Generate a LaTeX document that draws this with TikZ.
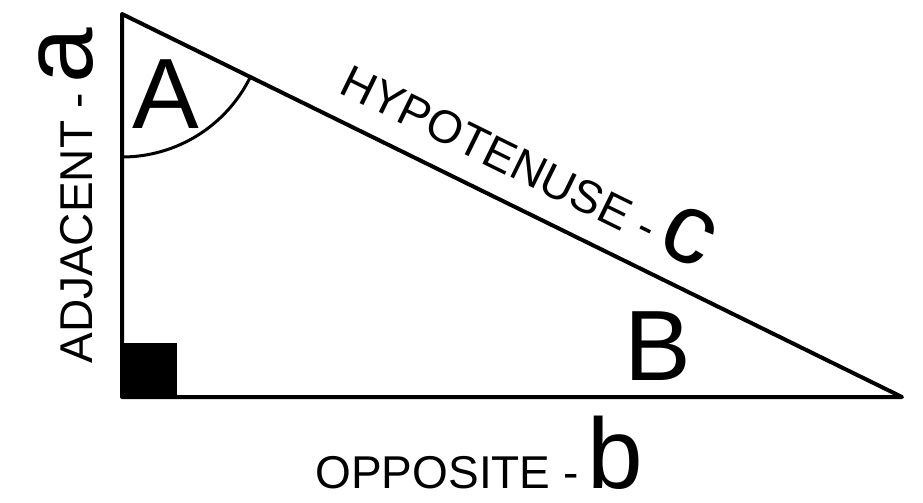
\documentclass[tikz,border=0pt]{standalone}
\usepackage{fontspec}
\setmainfont{Liberation Sans}
\tikzset{
  edge/.style={line width=2pt,line join=round},
  anglearc/.style={line width=1.5pt},
  sidelabel/.style={inner sep=0pt,font=\fontsize{23}{27}\selectfont},
  anglelabel/.style={inner sep=0pt,font=\fontsize{50}{60}\selectfont}
}
\newcommand{\sideletter}[1]{{\fontsize{50}{60}\selectfont\kern-0.04em #1}}

\begin{document}
\begin{tikzpicture}[x=0.5pt,y=-0.5pt]
  \useasboundingbox (0,0) rectangle (923,503);
  \coordinate (top) at (122,14);
  \coordinate (corner) at (122,397);
  \coordinate (tip) at (902,397);
  % right angle mark
  \fill (corner) rectangle ++(55,-54);
  \draw[edge] (top) -- (corner) -- (tip) -- cycle;
  \draw[anglearc] (top) ++(0,143) arc[start angle=90,end angle=26.15,radius=143];
  \node[anglelabel,anchor=base] (labelA) at (166,128) {A};
  \node[anglelabel,anchor=base] (labelB) at (658,380) {B};
  \node[sidelabel,rotate=90,anchor=base west] (adjacent) at (92,364) {ADJACENT - \sideletter{a}};
  \node[sidelabel,anchor=base west] (opposite) at (315,488) {OPPOSITE - \sideletter{b}};
  \node[sidelabel,rotate=-26.15,anchor=base west] (hypotenuse) at (337,92) {HYPOTENUSE - \sideletter{c}};
\end{tikzpicture}
\end{document}
